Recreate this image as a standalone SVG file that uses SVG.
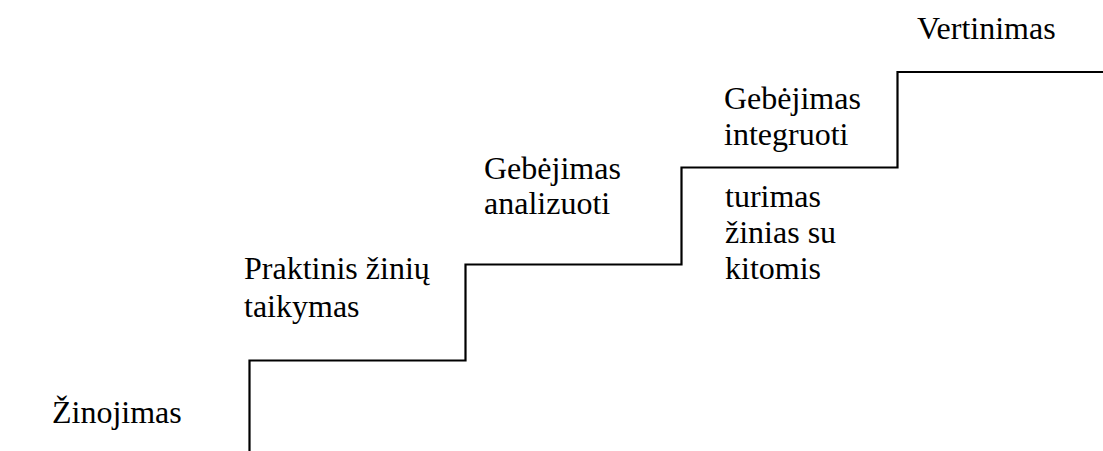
<svg xmlns="http://www.w3.org/2000/svg" width="1103" height="451" viewBox="0 0 1103 451">
<style>
.t{font-family:'Liberation Serif','Times New Roman',serif;font-size:32px;fill:#000}
.s{fill:none;stroke:#000;stroke-width:2.2}
</style>
<rect width="1103" height="451" fill="#fff"/>
<g id="connectors">
<polyline class="s" points="249.5,451 249.5,360.5 465.5,360.5 465.5,264.5 681.5,264.5 681.5,167.5 897.5,167.5 897.5,72 1103,72"/>
</g>
<g id="node-zinojimas"><text class="t" x="52" y="423">Žinojimas</text></g>
<g id="node-praktinis"><text class="t" x="244" y="279">Praktinis žinių</text><text class="t" x="244" y="317">taikymas</text></g>
<g id="node-analizuoti"><text class="t" x="484" y="179">Gebėjimas</text><text class="t" x="484" y="214">analizuoti</text></g>
<g id="node-integruoti"><text class="t" x="724" y="109">Gebėjimas</text><text class="t" x="724" y="145">integruoti</text></g>
<g id="node-turimas"><text class="t" x="725" y="207">turimas</text><text class="t" x="725" y="243">žinias su</text><text class="t" x="725" y="279">kitomis</text></g>
<g id="node-vertinimas"><text class="t" x="917" y="39">Vertinimas</text></g>
</svg>
